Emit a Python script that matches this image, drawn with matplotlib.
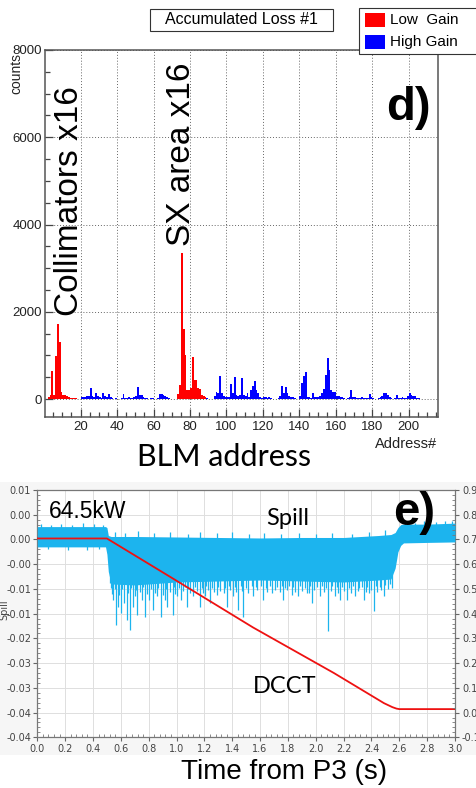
import matplotlib
matplotlib.use('Agg')
import matplotlib.pyplot as plt
from matplotlib.patches import Rectangle
from matplotlib.ticker import MultipleLocator, FixedLocator

W, H = 476, 788

# d) accumulated BLM loss per address (counts)
low_addr = [2, 3, 4, 5, 6, 7, 8, 9, 10, 11, 12, 13, 14, 15, 16, 17, 18,
            73, 74, 75, 76, 77, 78, 79, 80, 81, 82, 83, 84, 85, 86, 87, 88]
low_counts = [40, 100, 650, 90, 980, 1720, 1320, 170, 100, 90, 60, 40, 30, 30, 20, 15, 10,
              120, 320, 3350, 1600, 1000, 220, 200, 250, 960, 440, 430, 260, 240, 100, 80, 40]

high_addr = list(range(20, 73)) + list(range(89, 206))
high_counts = [40, 55, 50, 60, 70, 245, 60, 50, 130, 80, 40, 30, 130, 60, 40, 115, 50, 20, 10, 15,
               10, 5, 20, 107, 20, 30, 40, 35, 30, 50, 60, 270, 90, 90, 40, 30, 20, 10, 20, 30,
               10, 5, 20, 107, 107, 100, 60, 40, 20, 10, 5, 5, 10,
               20, 10, 5, 10, 60, 170, 130, 530, 130, 60, 55, 50, 40, 345, 130, 500, 90, 80, 90, 475,
               90, 60, 145, 50, 200, 300, 414, 200, 150, 50, 30, 40, 40, 30, 40, 20, 5, 5, 10, 30,
               60, 300, 130, 270, 130, 60, 40, 40, 30, 10, 10, 60, 375, 530, 630, 55, 40, 30, 150,
               55, 50, 55, 60, 150, 230, 550, 935, 670, 220, 170, 170, 70, 60, 40, 40, 20, 10, 30,
               40, 207, 55, 40, 30, 30, 30, 40, 30, 20, 30, 107, 40, 20, 10, 10, 30, 40, 60, 145,
               145, 90, 40, 20, 10, 20, 90, 30, 30, 40, 20, 30, 60, 145, 100, 70, 70, 30, 20]

# e) spill monitor band, its spikes, and DCCT vs time from P3 (s)
env_t = [0.00, 0.49, 0.50, 0.51, 0.53, 0.70, 1.00, 1.30, 1.60, 1.90, 2.20, 2.45, 2.54, 2.57,
         2.59, 2.61, 2.63, 2.80, 3.00]
env_top = [0.0026, 0.0026, 0.0024, 0.0008, 0.0006, 0.0006, 0.0005, 0.0004, 0.0003, 0.0004,
           0.0004, 0.0008, 0.0010, 0.0014, 0.0024, 0.0030, 0.0031, 0.0031, 0.0033]
env_bot = [-0.0015, -0.0015, -0.0030, -0.0065, -0.0090, -0.0092, -0.0086, -0.0084, -0.0082,
           -0.0084, -0.0086, -0.0082, -0.0080, -0.0058, -0.0025, -0.0012, -0.0007, -0.0006,
           -0.0005]

dip_t = [0.522, 0.546, 0.565, 0.582, 0.599, 0.623, 0.642, 0.666, 0.690, 0.719, 0.750, 0.774,
         0.805, 0.829, 0.858, 0.886, 0.917, 0.934, 0.972, 1.001, 1.030, 1.073, 1.121, 1.169,
         1.205, 1.241, 1.289, 1.361, 1.409, 1.445, 1.480, 1.552, 1.624, 1.684, 1.767, 1.828,
         1.875, 1.935, 1.971, 2.031, 2.091, 2.139, 2.175, 2.223, 2.283, 2.343, 2.379, 2.415,
         2.487, 2.547]
dip_v = [-0.0088, -0.0122, -0.0173, -0.0136, -0.0149, -0.0129, -0.0162, -0.0183, -0.0136,
         -0.0152, -0.0122, -0.0156, -0.0122, -0.0142, -0.0115, -0.0156, -0.0122, -0.0136,
         -0.0152, -0.0115, -0.0122, -0.0136, -0.0115, -0.0136, -0.0115, -0.0129, -0.0112,
         -0.0136, -0.0115, -0.0142, -0.0156, -0.0115, -0.0122, -0.0108, -0.0122, -0.0112,
         -0.0115, -0.0108, -0.0129, -0.0115, -0.0186, -0.0115, -0.0122, -0.0122, -0.0115,
         -0.0122, -0.0108, -0.0145, -0.0115, -0.0098]
small_dip_t = [0.535, 0.59, 0.655, 0.70, 0.735, 0.79, 0.845, 0.90, 0.955, 0.99, 1.05, 1.10,
               1.15, 1.19, 1.225, 1.27, 1.31, 1.34, 1.385, 1.43, 1.47, 1.51, 1.58, 1.65, 1.71,
               1.74, 1.79, 1.85, 1.90, 1.95, 1.99, 2.06, 2.11, 2.16, 2.20, 2.25, 2.30, 2.36,
               2.40, 2.44, 2.47, 2.52, 0.08, 0.22, 0.36, 0.44]
small_dip_v = [-0.0110, -0.0112, -0.0108, -0.0114, -0.0106, -0.0111, -0.0108, -0.0113,
               -0.0106, -0.0110, -0.0104, -0.0109, -0.0105, -0.0108, -0.0103, -0.0107,
               -0.0104, -0.0109, -0.0103, -0.0106, -0.0104, -0.0108, -0.0102, -0.0106,
               -0.0103, -0.0107, -0.0103, -0.0106, -0.0104, -0.0108, -0.0103, -0.0107,
               -0.0104, -0.0108, -0.0105, -0.0109, -0.0104, -0.0107, -0.0103, -0.0106,
               -0.0102, -0.0100, -0.0020, -0.0022, -0.0021, -0.0019]
mid_dip_t = [0.53, 0.555, 0.61, 0.675, 0.71, 0.76, 0.815, 0.87, 0.925, 0.985, 1.015, 1.06,
             1.085, 1.135, 1.18, 1.215, 1.255, 1.30, 1.35, 1.375, 1.42, 1.46, 1.50, 1.54,
             1.57, 1.61, 1.64, 1.67, 1.72, 1.755, 1.78, 1.81, 1.84, 1.89, 1.92, 1.96, 2.01,
             2.045, 2.075, 2.12, 2.15, 2.19, 2.24, 2.27, 2.31, 2.33, 2.37, 2.43, 2.46, 2.50,
             2.53]
mid_dip_v = [-0.0098, -0.0101, -0.0100, -0.0099, -0.0102, -0.0097, -0.0100, -0.0098,
             -0.0101, -0.0096, -0.0099, -0.0097, -0.0100, -0.0096, -0.0099, -0.0095,
             -0.0098, -0.0096, -0.0099, -0.0095, -0.0097, -0.0095, -0.0098, -0.0094,
             -0.0097, -0.0095, -0.0098, -0.0094, -0.0096, -0.0095, -0.0098, -0.0094,
             -0.0097, -0.0095, -0.0098, -0.0095, -0.0097, -0.0094, -0.0098, -0.0095,
             -0.0097, -0.0096, -0.0099, -0.0095, -0.0098, -0.0096, -0.0097, -0.0094,
             -0.0096, -0.0093, -0.0090]
peak_t = [0.03, 0.10, 0.17, 0.25, 0.33, 0.41, 0.47, 0.56, 0.63, 0.72, 0.84, 0.95, 1.08,
          1.17, 1.29, 1.40, 1.52, 1.63, 1.75, 1.88, 2.00, 2.12, 2.26, 2.38, 2.50, 2.64, 2.71,
          2.78, 2.86, 2.93, 2.98]
peak_v = [0.0031, 0.0030, 0.0032, 0.0030, 0.0033, 0.0031, 0.0029, 0.0016, 0.0014, 0.0017,
          0.0013, 0.0016, 0.0012, 0.0015, 0.0013, 0.0016, 0.0012, 0.0014, 0.0011, 0.0013,
          0.0012, 0.0014, 0.0012, 0.0016, 0.0019, 0.0036, 0.0034, 0.0037, 0.0035, 0.0037,
          0.0038]

dcct_t = [0.0, 0.50, 0.98, 1.55, 2.13, 2.49, 2.55, 2.58, 2.60, 3.0]
dcct_v = [0.0002, 0.0002, -0.0080, -0.0178, -0.0270, -0.0331, -0.0339, -0.0342, -0.0343, -0.0343]

spill_ticks = [0.01, 0.005, 0.0, -0.005, -0.01, -0.015, -0.02, -0.025, -0.03, -0.035, -0.04]
spill_labels = ['0.01', '0.00', '0.00', '-0.00', '-0.01', '-0.01', '-0.02', '-0.03', '-0.03',
                '-0.04', '-0.04']
right_ticks = [0.9, 0.8, 0.7, 0.6, 0.5, 0.4, 0.3, 0.2, 0.1, 0.0, -0.1]

CYAN = '#1cb4ee'


def fx(x):
    return x / W


def fy(y):
    return 1 - y / H


fig = plt.figure(figsize=(W / 100, H / 100), dpi=100)
fig.patch.set_facecolor('white')
root_font = 'Liberation Sans'

# light grey backdrop behind the lower panel
fig.patches.append(Rectangle((0, fy(755)), 1, (755 - 482) / H, transform=fig.transFigure,
                             fc='#f6f6f6', ec='none', zorder=-5))

# ---------------- top panel (ROOT style histogram)
ax1 = fig.add_axes([fx(45), fy(417), 393 / W, 367 / H])
ax1.bar(low_addr, low_counts, width=1, align='edge', color='#ff0000', lw=0, zorder=3)
ax1.bar(high_addr, high_counts, width=1, align='edge', color='#0000ff', lw=0, zorder=3)
ax1.set_xlim(0.5, 216)
ax1.set_ylim(-410, 8000)
ax1.xaxis.set_major_locator(FixedLocator(range(20, 201, 20)))
ax1.xaxis.set_minor_locator(FixedLocator(range(5, 216, 5)))
ax1.yaxis.set_major_locator(MultipleLocator(2000))
ax1.yaxis.set_minor_locator(FixedLocator(range(0, 8001, 500)))
ax1.tick_params(which='major', direction='in', length=6, width=0.9, color='#444',
                labelsize=9.5, labelcolor='#222', pad=2)
ax1.tick_params(which='minor', direction='in', length=3.5, width=0.9, color='#444')
ax1.tick_params(axis='x', pad=3)
for lab in ax1.get_xticklabels() + ax1.get_yticklabels():
    lab.set_fontfamily(root_font)
for s in ax1.spines.values():
    s.set_color('#555')
    s.set_linewidth(1.1)
ax1.grid(True, which='major', ls=(0, (1, 2)), color='#666', lw=0.7, zorder=1)

fig.text(fx(16), fy(53), 'counts', rotation=90, ha='center', va='top', fontsize=10,
         family=root_font, color='#222')
fig.text(fx(69), fy(316), 'Collimators x16', rotation=90, ha='center', va='bottom',
         fontsize=24, family=root_font)
fig.text(fx(181), fy(246), 'SX area x16', rotation=90, ha='center', va='bottom',
         fontsize=24, family=root_font)
fig.text(fx(386), fy(120), 'd)', fontsize=34, weight='bold', family=root_font,
         va='baseline', ha='left')
fig.text(fx(437), fy(448), 'Address#', fontsize=10.5, family=root_font, ha='right',
         va='baseline', color='#222')
fig.text(fx(224), fy(466), 'BLM address', fontsize=22, family='Lato', ha='center',
         va='baseline')

# title box and legend box
fig.patches.append(Rectangle((fx(150), fy(31)), 183 / W, 22 / H, transform=fig.transFigure,
                             fc='white', ec='#333', lw=0.8))
fig.text(fx(241.5), fy(20), 'Accumulated Loss #1', fontsize=11.5, family=root_font,
         ha='center', va='center')
fig.patches.append(Rectangle((fx(359), fy(54)), 130 / W, 46 / H, transform=fig.transFigure,
                             fc='white', ec='#333', lw=0.8))
fig.patches.append(Rectangle((fx(365), fy(27)), 20 / W, 14 / H, transform=fig.transFigure,
                             fc='#ff0000', ec='none'))
fig.patches.append(Rectangle((fx(365), fy(49)), 20 / W, 14 / H, transform=fig.transFigure,
                             fc='#0000ff', ec='none'))
fig.text(fx(390), fy(20), 'Low  Gain', fontsize=11, family=root_font, va='center')
fig.text(fx(390), fy(42), 'High Gain', fontsize=11, family=root_font, va='center')

# ---------------- bottom panel (spill / DCCT)
ax2 = fig.add_axes([fx(37.3), fy(737.3), 417.7 / W, 247.3 / H])
ax2.set_facecolor('white')
ax2.fill_between(env_t, env_bot, env_top, color=CYAN, lw=0, zorder=3)
ax2.vlines(dip_t, dip_v, -0.007, color=CYAN, lw=0.9, zorder=3)
ax2.vlines(small_dip_t, small_dip_v, -0.001, color=CYAN, lw=0.9, zorder=3)
ax2.vlines(mid_dip_t, mid_dip_v, -0.005, color=CYAN, lw=0.9, zorder=3)
ax2.vlines(peak_t, 0.0, peak_v, color=CYAN, lw=0.9, zorder=3)
ax2.plot(dcct_t, dcct_v, color='#ee1111', lw=1.3, zorder=4)
ax2.set_xlim(0, 3)
ax2.set_ylim(-0.04, 0.01)
ax2.xaxis.set_major_locator(MultipleLocator(0.2))
ax2.xaxis.set_minor_locator(MultipleLocator(0.04))
ax2.set_yticks(spill_ticks)
ax2.set_yticklabels(spill_labels)
ax2.yaxis.set_minor_locator(MultipleLocator(0.001))
ax2.xaxis.set_major_formatter(plt.FormatStrFormatter('%.1f'))
ax2.tick_params(which='major', direction='out', length=3, width=0.8, color='#666',
                labelsize=7, labelcolor='#444', pad=1.5)
ax2.tick_params(which='minor', direction='in', length=2, width=0.6, color='#777')
ax2.grid(True, which='major', color='#dedede', lw=0.7, zorder=1)
for s in ax2.spines.values():
    s.set_color('#777')
    s.set_linewidth(0.9)

ax3 = ax2.twinx()
ax3.set_ylim(-0.1, 0.9)
ax3.set_yticks(right_ticks)
ax3.yaxis.set_major_formatter(plt.FormatStrFormatter('%.1f'))
ax3.yaxis.set_minor_locator(MultipleLocator(0.02))
ax3.tick_params(which='major', direction='out', length=3, width=0.8, color='#666',
                labelsize=7, labelcolor='#444', pad=2)
ax3.tick_params(which='minor', direction='in', length=2, width=0.6, color='#777')
for s in ax3.spines.values():
    s.set_visible(False)

fig.text(fx(4), fy(610), 'Spill', rotation=90, ha='center', va='center', fontsize=7,
         color='#444')
fig.text(fx(49), fy(517.5), '64.5kW', fontsize=16.5, family=root_font, va='baseline')
fig.text(fx(266), fy(525), 'Spill', fontsize=17, family='Lato', va='baseline')
fig.text(fx(253), fy(693), 'DCCT', fontsize=17, family='Lato', va='baseline')
fig.text(fx(393), fy(525), 'e)', fontsize=34, weight='bold', family=root_font,
         va='baseline', ha='left')
fig.text(fx(284), fy(779), 'Time from P3 (s)', fontsize=20, family=root_font, ha='center',
         va='baseline')

fig.savefig('out.png', dpi=100)
